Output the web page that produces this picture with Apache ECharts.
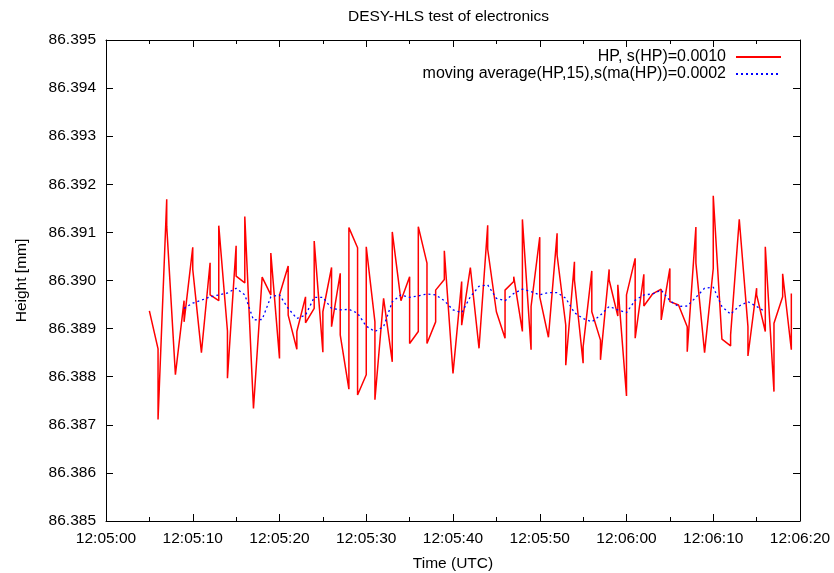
<!DOCTYPE html>
<html>
<head>
<meta charset="utf-8">
<script src="https://cdn.jsdelivr.net/npm/echarts@6/dist/echarts.min.js"></script>
<style>
html,body{margin:0;padding:0;background:#fff;}
#chart{width:834px;height:573px;}
</style>
</head>
<body>
<div id="chart"></div>
<script>
// seconds after 12:05:00
const redTimes = [
  5, 6, 6, 7, 7, 8, 9, 9, 10, 10,
  11, 12, 12, 13, 13, 14, 14, 15, 15, 16, 16,
  17, 18, 19, 19, 20, 20, 21, 21, 22, 22,
  23, 23, 24, 24, 25, 25, 26, 26, 27, 27,
  28, 28, 29, 29, 30, 30, 31, 31, 32, 33, 33,
  34, 35, 35, 36, 36, 37, 37, 38, 38, 39, 39,
  40, 41, 41, 42, 43, 44, 44, 45, 46, 46,
  47, 47, 48, 48, 49, 49, 50, 50, 51, 52, 52,
  53, 53, 54, 54, 55, 55, 56, 56, 57, 57,
  58, 58, 59, 59, 60, 60, 61, 61, 62, 62,
  63, 64, 64, 65, 65, 66, 67, 67, 68, 68,
  69, 70, 70, 71, 72, 72, 73, 74, 74, 75, 75,
  76, 76, 77, 77, 78, 78, 79, 79
];
const redValues = [
  86.38937, 86.38858, 86.38711, 86.39169, 86.39113, 86.38804, 86.38958, 86.38914, 86.39069, 86.39023,
  86.38850, 86.39037, 86.38970, 86.38958, 86.39114, 86.38895, 86.38797, 86.39072, 86.39009, 86.38995, 86.39133,
  86.38734, 86.39007, 86.38970, 86.39057, 86.38838, 86.38970, 86.39030, 86.38928, 86.38857, 86.38894,
  86.38966, 86.38912, 86.38942, 86.39082, 86.38851, 86.38935, 86.39027, 86.38904, 86.39015, 86.38887,
  86.38774, 86.39110, 86.39068, 86.38762, 86.38804, 86.39070, 86.38914, 86.38752, 86.38963, 86.38831, 86.39101,
  86.38958, 86.39008, 86.38869, 86.38894, 86.39112, 86.39036, 86.38869, 86.38914, 86.38980, 86.39002, 86.39062,
  86.38807, 86.38998, 86.38907, 86.39027, 86.38859, 86.39115, 86.39065, 86.38935, 86.38880, 86.38980,
  86.38998, 86.39008, 86.38894, 86.39127, 86.38856, 86.38946, 86.39090, 86.38966, 86.38882, 86.39098, 86.39053,
  86.38907, 86.38824, 86.39039, 86.39001, 86.38828, 86.38862, 86.39020, 86.38935, 86.38876, 86.38835,
  86.39023, 86.39001, 86.38926, 86.38991, 86.38760, 86.38970, 86.39046, 86.38880, 86.39013, 86.38947,
  86.38972, 86.38982, 86.38918, 86.39025, 86.38956, 86.38949, 86.38904, 86.38852, 86.39111, 86.39036,
  86.38850, 86.39025, 86.39176, 86.38878, 86.38864, 86.38887, 86.39127, 86.38904, 86.38843, 86.38984, 86.38970,
  86.38894, 86.39070, 86.38769, 86.38911, 86.38966, 86.39014, 86.38856, 86.38973
];
const blueTimes = [
  9, 10, 11, 12, 13, 14, 15, 16, 17, 18, 19, 20, 21, 22, 23, 24, 25, 26, 27, 28,
  29, 30, 31, 32, 33, 34, 35, 36, 37, 38, 39, 40, 41, 42, 43, 44, 45, 46, 47, 48,
  49, 50, 51, 52, 53, 54, 55, 56, 57, 58, 59, 60, 61, 62, 63, 64, 65, 66, 67, 68,
  69, 70, 71, 72, 73, 74, 75, 76
];
const blueValues = [
  86.38942, 86.38953, 86.38959, 86.38966, 86.38970, 86.38974, 86.38984, 86.38970, 86.38918, 86.38919,
  86.38966, 86.38970, 86.38942, 86.38921, 86.38928, 86.38965, 86.38965, 86.38942, 86.38939, 86.38940,
  86.38932, 86.38905, 86.38894, 86.38904, 86.38956, 86.38970, 86.38965, 86.38968, 86.38972, 86.38970,
  86.38958, 86.38939, 86.38933, 86.38966, 86.38988, 86.38991, 86.38963, 86.38958, 86.38973, 86.38982,
  86.38977, 86.38970, 86.38975, 86.38975, 86.38963, 86.38933, 86.38921, 86.38914, 86.38928, 86.38946,
  86.38939, 86.38933, 86.38959, 86.38970, 86.38972, 86.38980, 86.38958, 86.38946, 86.38947, 86.38965,
  86.38984, 86.38986, 86.38946, 86.38930, 86.38947, 86.38956, 86.38946, 86.38935
];
const seriesNames = ['HP, s(HP)=0.0010', 'moving average(HP,15),s(ma(HP))=0.0002'];
const titleText = 'DESY-HLS test of electronics';
const xName = 'Time (UTC)';
const yName = 'Height [mm]';

const FONT = 'Liberation Sans, Arial, Helvetica, sans-serif';
const FS = 15.5;
function pad(n){ return (n < 10 ? '0' : '') + n; }
function fmtTime(s){
  const total = 12*3600 + 5*60 + Math.round(s);
  const h = Math.floor(total/3600), m = Math.floor((total%3600)/60), sec = total%60;
  return h + ':' + pad(m) + ':' + pad(sec);
}
const redData = redTimes.map((t,i)=>[t, redValues[i]]);
const blueData = blueTimes.map((t,i)=>[t, blueValues[i]]);

const chart = echarts.init(document.getElementById('chart'), null, {renderer:'canvas'});
const axisLine = {show:true, onZero:false, lineStyle:{color:'#000', width:1}};
const tick = {show:true, inside:true, length:7, lineStyle:{color:'#000', width:1}};
const minor = {show:true, splitNumber:2, length:4, lineStyle:{color:'#000', width:1}};
chart.setOption({
  animation:false,
  backgroundColor:'#fff',
  title:{
    text:titleText, left:343, top:4,
    textStyle:{fontFamily:FONT, fontSize:FS, fontWeight:'normal', color:'#000'}
  },
  legend:{
    orient:'vertical', right:47, top:44, align:'right',
    itemWidth:45, itemHeight:16, itemGap:1,
    itemStyle:{opacity:0},
    textStyle:{fontFamily:FONT, fontSize:16, color:'#000', padding:[0,5,0,0]},
    data:seriesNames
  },
  grid:{left:106, right:34, top:40, bottom:52, containLabel:false, outerBoundsMode:'none'},
  xAxis:[{
    type:'value', min:0, max:80, interval:10, position:'bottom',
    name:xName, nameLocation:'middle', nameGap:35,
    nameTextStyle:{fontFamily:FONT, fontSize:FS, color:'#000'},
    axisLine:axisLine, axisTick:tick, minorTick:minor,
    splitLine:{show:false}, minorSplitLine:{show:false},
    axisLabel:{fontFamily:FONT, fontSize:FS, color:'#000', margin:10, formatter:fmtTime}
  },{
    type:'value', min:0, max:80, interval:10, position:'top',
    axisLine:axisLine, axisTick:tick, minorTick:minor,
    splitLine:{show:false}, minorSplitLine:{show:false},
    axisLabel:{show:false}
  }],
  yAxis:[{
    type:'value', min:86.385, max:86.395, interval:0.001, position:'left',
    name:yName, nameLocation:'middle', nameGap:76, nameRotate:90,
    nameTextStyle:{fontFamily:FONT, fontSize:FS, color:'#000'},
    axisLine:axisLine, axisTick:tick,
    splitLine:{show:false},
    axisLabel:{fontFamily:FONT, fontSize:FS, color:'#000', margin:10, formatter:v=>v.toFixed(3)}
  },{
    type:'value', min:86.385, max:86.395, interval:0.001, position:'right',
    axisLine:axisLine, axisTick:tick,
    splitLine:{show:false},
    axisLabel:{show:false}
  }],
  series:[{
    name:seriesNames[0], type:'line', xAxisIndex:0, yAxisIndex:0,
    data:redData, symbol:'none', color:'#ff0000',
    lineStyle:{color:'#ff0000', width:1.5}
  },{
    name:seriesNames[1], type:'line', xAxisIndex:0, yAxisIndex:0,
    data:blueData, symbol:'none', color:'#0000ff',
    lineStyle:{color:'#0000ff', width:1.3, type:[2,3]}
  }]
});
</script>
</body>
</html>
